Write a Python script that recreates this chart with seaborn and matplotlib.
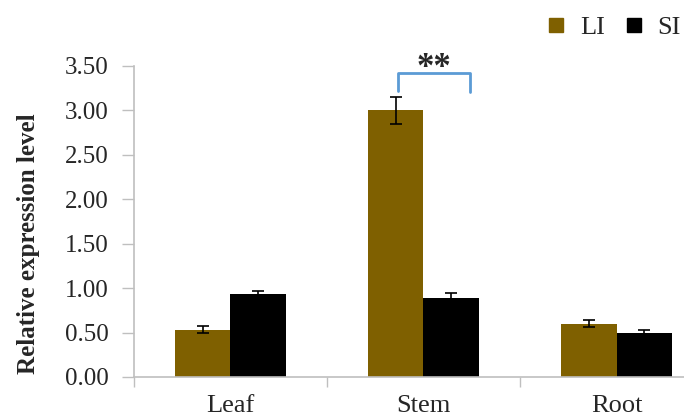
import numpy as np
import pandas as pd
import matplotlib
matplotlib.use("Agg")
import matplotlib.pyplot as plt
import seaborn as sns
from matplotlib.ticker import FormatStrFormatter, FixedLocator
from matplotlib.lines import Line2D

# data
tissues = ["Leaf", "Stem", "Root"]
groups = ["LI", "SI"]
li_vals = [0.53, 3.00, 0.60]
li_err = [0.04, 0.15, 0.04]
si_vals = [0.93, 0.89, 0.49]
si_err = [0.04, 0.05, 0.04]
colors = {"LI": "#7F6000", "SI": "#000000"}

df = pd.DataFrame({
    "tissue": tissues * 2,
    "group": ["LI"] * 3 + ["SI"] * 3,
    "value": li_vals + si_vals,
    "err": li_err + si_err,
})

sns.set_style("white")
plt.rcParams["font.family"] = ["Liberation Serif", "DejaVu Serif"]

fig = plt.figure(figsize=(6.84, 4.16), dpi=100)
ax = fig.add_axes([0.1959, 0.0938, 0.8465, 0.7476])

sns.barplot(data=df, x="tissue", y="value", hue="group", order=tissues,
            hue_order=groups, palette=colors, width=0.57, errorbar=None,
            saturation=1, linewidth=0, ax=ax, legend=False)

# error bars on top of each bar
for cont, g in zip(ax.containers, groups):
    sub = df[df.group == g].set_index("tissue").loc[tissues]
    xs = [p.get_x() + p.get_width() / 2 for p in cont.patches]
    ax.errorbar(xs, sub["value"], yerr=sub["err"], fmt="none", ecolor="black",
                elinewidth=1.2, capsize=4, capthick=1.2)

ax.set_ylim(0, 3.5)
ax.set_xlim(-0.5, 2.5)
ax.set_yticks(np.arange(0, 3.51, 0.5))
ax.yaxis.set_major_formatter(FormatStrFormatter("%.2f"))
ax.tick_params(axis="y", labelsize=18, length=9, width=1, color="#BFBFBF",
               direction="out", left=True, pad=9)
ax.tick_params(axis="x", which="major", labelsize=19, length=0, pad=13)
ax.xaxis.set_minor_locator(FixedLocator([-0.5, 0.5, 1.5, 2.5]))
ax.tick_params(axis="x", which="minor", length=7, width=1, color="#BFBFBF",
               direction="out", bottom=True)
ax.set_xlabel("")
ax.set_ylabel("Relative expression level", fontsize=18, fontweight="bold")
ax.yaxis.set_label_coords(-0.162, 0.43)

for s in ["top", "right"]:
    ax.spines[s].set_visible(False)
for s in ["left", "bottom"]:
    ax.spines[s].set_color("#BFBFBF")
    ax.spines[s].set_linewidth(1.2)

# significance bracket over Stem
bx0, bx1 = 1 - 0.13, 1 + 0.24
ax.plot([bx0, bx0, bx1, bx1], [3.22, 3.42, 3.42, 3.21], color="#5B9BD5",
        lw=2, clip_on=False)
ax.text((bx0 + bx1) / 2, 3.38, "**", ha="center", va="baseline", fontsize=25,
        fontweight="bold", clip_on=False)

handles = [Line2D([], [], marker="s", linestyle="none", markersize=10,
                  markerfacecolor=colors[g], markeredgecolor=colors[g])
           for g in groups]
fig.legend(handles, groups, loc="upper right", bbox_to_anchor=(1.03, 1.02),
           ncol=2, frameon=False, fontsize=19, handlelength=0.8,
           handletextpad=0.5, columnspacing=0.7)

fig.savefig("out.png", dpi=100)
